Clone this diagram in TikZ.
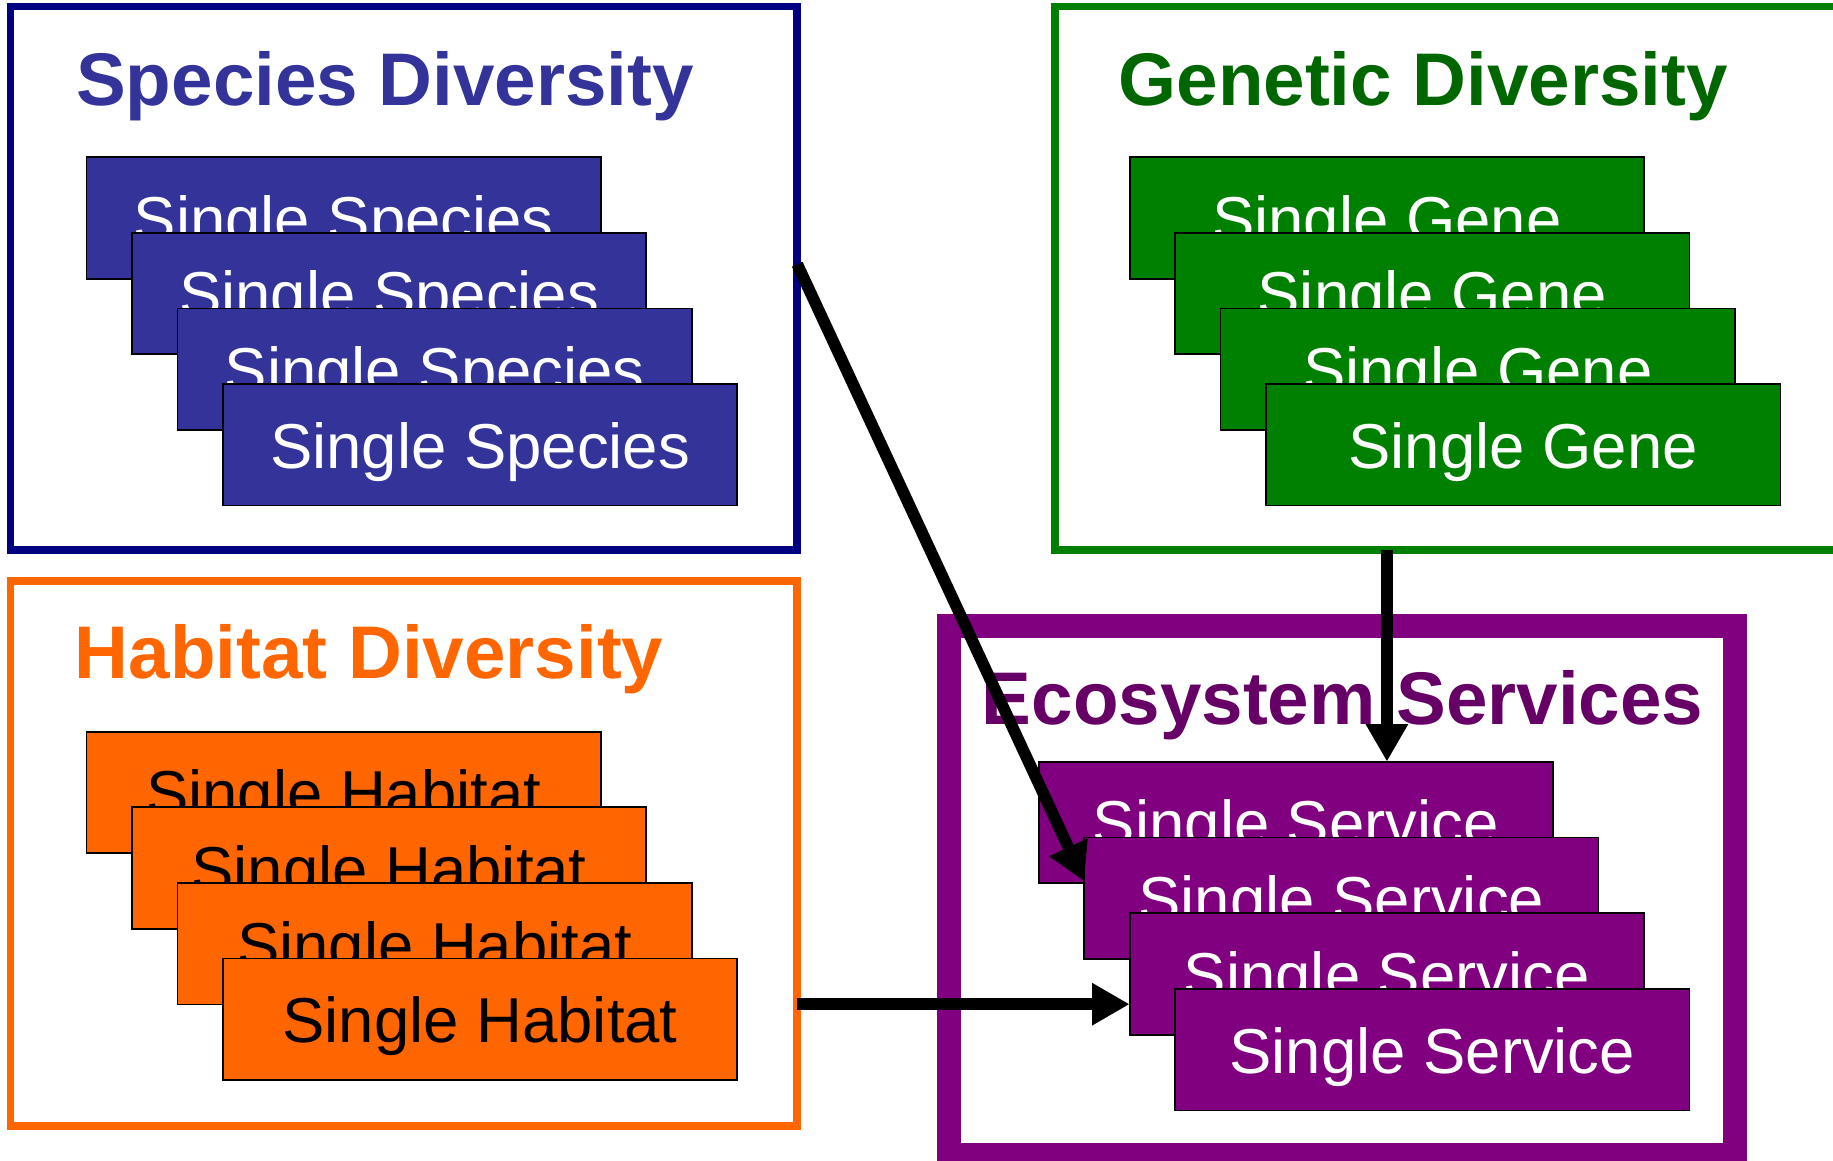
\documentclass[tikz,border=0pt]{standalone}
\usepackage{fontspec}
\setmainfont{Liberation Sans}
\usetikzlibrary{arrows.meta}
\definecolor{spnavy}{HTML}{000080}
\definecolor{spblue}{HTML}{333399}
\definecolor{gngreen}{HTML}{008000}
\definecolor{gntitle}{HTML}{006600}
\definecolor{hborange}{HTML}{FF6600}
\definecolor{evpurple}{HTML}{800080}
\definecolor{evtitle}{HTML}{660066}
\begin{document}
\begin{tikzpicture}[x=0.5pt,y=-0.5pt,
  groupbox/.style={draw=#1, line width=3.25pt, fill=white, inner sep=0pt, outer sep=0pt, anchor=north west},
  card/.style={draw=black, line width=0.75pt, fill=#1, inner sep=0pt, outer sep=0pt, anchor=north west,
    minimum width=220pt, minimum height=52pt, text height=20pt, text depth=0pt, text=white,
    font=\fontsize{27.15}{32}\selectfont},
  title/.style={anchor=base west, inner sep=0pt, text=#1, font=\fontsize{31.9}{38}\selectfont\bfseries},
  flow/.style={draw=black, line width=5pt, -{Triangle[length=16pt,width=17pt]}}
]
\path[use as bounding box] (0,0) rectangle (1568,993);
\clip (0,0) rectangle (1568,993);
\fill[white] (0,0) rectangle (1568,993);

% group boxes
\node[groupbox=spnavy, minimum width=336.5pt, minimum height=232.5pt] (species) at (9,5.5) {};
\node[groupbox=gngreen, minimum width=336.25pt, minimum height=232.5pt] (genetic) at (902.5,5.5) {};
\node[groupbox=hborange, minimum width=336.5pt, minimum height=233pt] (habitat) at (9,497) {};
\node[groupbox=evpurple, line width=10.2pt, minimum width=336.1pt, minimum height=226.2pt] (eco) at (811.6,535.8) {};

% titles
\node[title=spblue] (tsp) at (64.8,90) {Species Diversity};
\node[title=gntitle] (tgn) at (956.4,90) {Genetic Diversity};
\node[title=hborange] (thb) at (63.7,580) {Habitat Diversity};
\node[title=evtitle] (tev) at (839.5,620) {Ecosystem Services};

% species cards
\node[card=spblue] (sp1) at (74,134.4) {Single Species};
\node[card=spblue] (sp2) at (112.9,199.1) {Single Species};
\node[card=spblue] (sp3) at (151.8,263.8) {Single Species};
\node[card=spblue] (sp4) at (190.7,328.5) {Single Species};

% gene cards
\node[card=gngreen] (gn1) at (966.3,134.4) {Single Gene};
\node[card=gngreen] (gn2) at (1005.2,199.1) {Single Gene};
\node[card=gngreen] (gn3) at (1044.1,263.8) {Single Gene};
\node[card=gngreen] (gn4) at (1083.0,328.5) {Single Gene};

% habitat cards
\node[card=hborange, text=black] (hb1) at (74,625.9) {Single Habitat};
\node[card=hborange, text=black] (hb2) at (112.9,690.6) {Single Habitat};
\node[card=hborange, text=black] (hb3) at (151.8,755.3) {Single Habitat};
\node[card=hborange, text=black] (hb4) at (190.7,820.0) {Single Habitat};

% service cards
\node[card=evpurple] (sv1) at (888.5,651.5) {Single Service};
\node[card=evpurple] (sv2) at (927.4,716.3) {Single Service};
\node[card=evpurple] (sv3) at (966.3,781.1) {Single Service};
\node[card=evpurple] (sv4) at (1005.2,845.9) {Single Service};

% connectors
\coordinate (g2) at (1186.4,470.5);
\coordinate (h3) at (682,859);
\draw[flow] ([yshift=6pt]species.east) -- ([yshift=7.25pt]sv2.west);
\draw[flow] (g2) -- (g2 |- sv1.north);
\draw[flow] (h3) -- (h3 -| sv3.west);
\end{tikzpicture}
\end{document}
